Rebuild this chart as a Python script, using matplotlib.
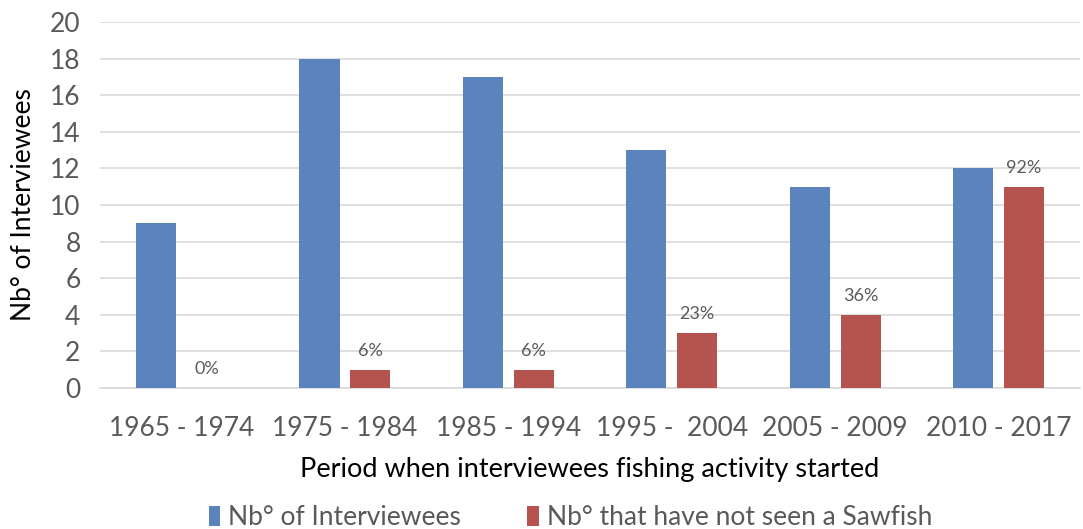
import numpy as np
import matplotlib.pyplot as plt

plt.rcParams['font.family'] = ['Lato', 'DejaVu Sans']

periods = ["1965 - 1974", "1975 - 1984", "1985 - 1994", "1995 -  2004", "2005 - 2009", "2010 - 2017"]
interviewees = [9, 18, 17, 13, 11, 12]
not_seen = [0, 1, 1, 3, 4, 11]
pct_labels = ["0%", "6%", "6%", "23%", "36%", "92%"]

blue = "#5b83bd"
red = "#b5534f"
grey = "#595959"

fig = plt.figure(figsize=(10.83, 5.29), dpi=100)
ax = fig.add_axes([0.0923, 0.2665, 0.905, 0.692])

x = np.arange(len(periods))
w = 0.245
off = 0.156
ax.bar(x - off, interviewees, w, color=blue, label="Nb° of Interviewees", zorder=3)
bars = ax.bar(x + off, not_seen, w, color=red, label="Nb° that have not seen a Sawfish", zorder=3)

for b, lab in zip(bars, pct_labels):
    ax.annotate(lab, (b.get_x() + b.get_width() / 2, b.get_height()),
                xytext=(0, 8), textcoords="offset points",
                ha="center", va="bottom", fontsize=13, color=grey)

ax.set_ylim(0, 20)
ax.set_xlim(-0.5, len(periods) - 0.5)
ax.set_yticks(range(0, 21, 2))
ax.yaxis.grid(True, color="#d9d9d9", linewidth=1.2, zorder=0)
for s in ["top", "right", "left"]:
    ax.spines[s].set_visible(False)
ax.spines["bottom"].set_color("#d9d9d9")
ax.spines["bottom"].set_linewidth(1.2)
ax.tick_params(length=0, labelsize=19, colors=grey, pad=14)
ax.tick_params(axis="x", pad=20)
ax.set_xticks(x)
ax.set_xticklabels(periods)

ax.set_ylabel("Nb° of Interviewees", fontsize=19, color="black", labelpad=10)
ax.set_xlabel("Period when interviewees fishing activity started", fontsize=19.5, color="black", labelpad=12)

ax.legend(loc="center", bbox_to_anchor=(0.48, -0.355), ncol=2, frameon=False,
          fontsize=19, labelcolor=grey, handlelength=0.45, handleheight=0.8,
          handletextpad=0.3, columnspacing=2.5)

fig.savefig("out.png", dpi=100)
